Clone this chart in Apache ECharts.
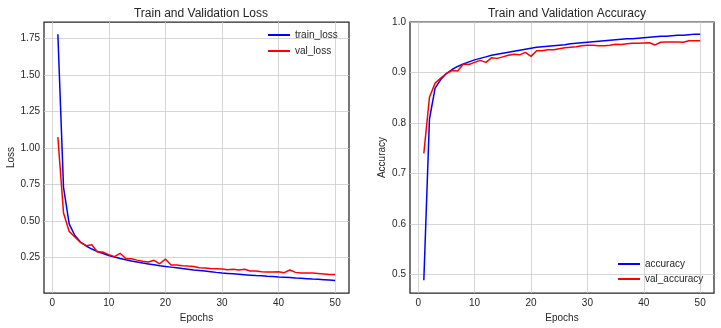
<!DOCTYPE html>
<html><head><meta charset="utf-8">
<script src="https://cdn.jsdelivr.net/npm/echarts@6/dist/echarts.min.js"></script>
<style>html,body{margin:0;padding:0;background:#fff}#c{width:721px;height:328px}</style>
</head><body><div id="c"></div>
<script>
const epochs = Array.from({length: 50}, (_, i) => i + 1);
const trainLoss = [1.78,0.73,0.48,0.40,0.355,0.328,0.307,0.290,0.276,0.263,0.252,0.242,0.233,0.225,0.218,0.211,0.205,0.199,0.193,0.188,0.183,0.178,0.173,0.169,0.164,0.160,0.156,0.152,0.147,0.143,0.140,0.137,0.134,0.131,0.128,0.125,0.123,0.120,0.118,0.115,0.113,0.111,0.108,0.106,0.104,0.101,0.099,0.097,0.095,0.092];
const valLoss = [1.075,0.554,0.428,0.39,0.353,0.330,0.336,0.287,0.286,0.269,0.255,0.278,0.242,0.241,0.231,0.224,0.218,0.230,0.206,0.238,0.197,0.197,0.193,0.190,0.188,0.179,0.177,0.174,0.172,0.170,0.165,0.168,0.163,0.168,0.156,0.156,0.152,0.150,0.150,0.152,0.145,0.163,0.147,0.142,0.142,0.142,0.140,0.136,0.132,0.133];
const accuracy = [0.489,0.808,0.869,0.886,0.898,0.906,0.912,0.917,0.921,0.925,0.928,0.931,0.934,0.936,0.938,0.940,0.942,0.944,0.946,0.948,0.950,0.951,0.952,0.953,0.954,0.955,0.957,0.958,0.959,0.960,0.961,0.962,0.963,0.964,0.965,0.966,0.967,0.967,0.968,0.969,0.970,0.971,0.972,0.972,0.973,0.974,0.974,0.975,0.976,0.976];
const valAccuracy = [0.740,0.851,0.879,0.889,0.898,0.904,0.903,0.917,0.916,0.920,0.924,0.920,0.929,0.928,0.931,0.934,0.936,0.935,0.940,0.932,0.943,0.943,0.945,0.945,0.947,0.949,0.950,0.951,0.953,0.954,0.954,0.953,0.953,0.954,0.956,0.9555,0.957,0.958,0.958,0.9586,0.959,0.9546,0.960,0.9605,0.9605,0.9605,0.960,0.963,0.963,0.963];
const xTicks = [0,10,20,30,40,50];
const lossTicks = [0.25,0.5,0.75,1.0,1.25,1.5,1.75];
const accTicks = [0.5,0.6,0.7,0.8,0.9,1.0];

const FONT = 'Liberation Sans';
const TXT = '#262626';
const chart = echarts.init(document.getElementById('c'), null, {renderer: 'canvas'});
const pair = (ys) => epochs.map((e, i) => [e, ys[i]]);
function xAxis(gi) {
  return {type: 'value', gridIndex: gi, min: -1.45, max: 52.45,
    name: 'Epochs', nameLocation: 'middle', nameGap: 17,
    nameTextStyle: {fontFamily: FONT, fontSize: 10, color: TXT},
    axisLine: {show: false},
    axisTick: {show: false, customValues: xTicks},
    axisLabel: {customValues: xTicks, fontFamily: FONT, fontSize: 10, color: TXT, margin: 5},
    splitLine: {show: true, lineStyle: {color: '#cccccc', width: 0.8}}};
}
function yAxis(gi, name, min, max, ticks, dec, gap) {
  return {type: 'value', gridIndex: gi, min: min, max: max,
    name: name, nameLocation: 'middle', nameGap: gap,
    nameTextStyle: {fontFamily: FONT, fontSize: 10, color: TXT},
    axisLine: {show: false},
    axisTick: {show: false, customValues: ticks},
    axisLabel: {customValues: ticks, fontFamily: FONT, fontSize: 10, color: TXT, margin: 4,
      formatter: v => v.toFixed(dec)},
    splitLine: {show: true, lineStyle: {color: '#cccccc', width: 0.8}}};
}
function line(name, data, color, xi) {
  return {type: 'line', name: name, xAxisIndex: xi, yAxisIndex: xi, data: data,
    showSymbol: false, symbol: 'none', lineStyle: {color: color, width: 1.5}, itemStyle: {color: color}};
}
chart.setOption({
  animation: false,
  title: [
    {text: 'Train and Validation Loss', left: 196, top: 3, textAlign: 'center',
      textStyle: {fontFamily: FONT, fontSize: 12, fontWeight: 'normal', color: TXT}},
    {text: 'Train and Validation Accuracy', left: 562, top: 3, textAlign: 'center',
      textStyle: {fontFamily: FONT, fontSize: 12, fontWeight: 'normal', color: TXT}}
  ],
  grid: [
    {left: 44, top: 22, width: 305, height: 271, show: true, borderColor: '#262626', borderWidth: 1.25, backgroundColor: 'transparent'},
    {left: 410, top: 22, width: 304, height: 271, show: true, borderColor: '#262626', borderWidth: 1.25, backgroundColor: 'transparent'}
  ],
  legend: [
    {data: ['train_loss', 'val_loss'], orient: 'vertical', left: 268, top: 29, itemGap: 4, padding: 0,
      itemWidth: 22, itemHeight: 2, icon: 'rect',
      textStyle: {fontFamily: FONT, fontSize: 10, color: TXT, lineHeight: 12}},
    {data: ['accuracy', 'val_accuracy'], orient: 'vertical', left: 618, top: 258, itemGap: 3, padding: 0,
      itemWidth: 22, itemHeight: 2, icon: 'rect',
      textStyle: {fontFamily: FONT, fontSize: 10, color: TXT, lineHeight: 12}}
  ],
  xAxis: [xAxis(0), xAxis(1)],
  yAxis: [yAxis(0, 'Loss', 0.0055, 1.8645, lossTicks, 2, 27), yAxis(1, 'Accuracy', 0.4636, 1.0, accTicks, 1, 23)],
  series: [
    line('train_loss', pair(trainLoss), '#0000ff', 0),
    line('val_loss', pair(valLoss), '#ff0000', 0),
    line('accuracy', pair(accuracy), '#0000ff', 1),
    line('val_accuracy', pair(valAccuracy), '#ff0000', 1)
  ]
});
</script></body></html>
